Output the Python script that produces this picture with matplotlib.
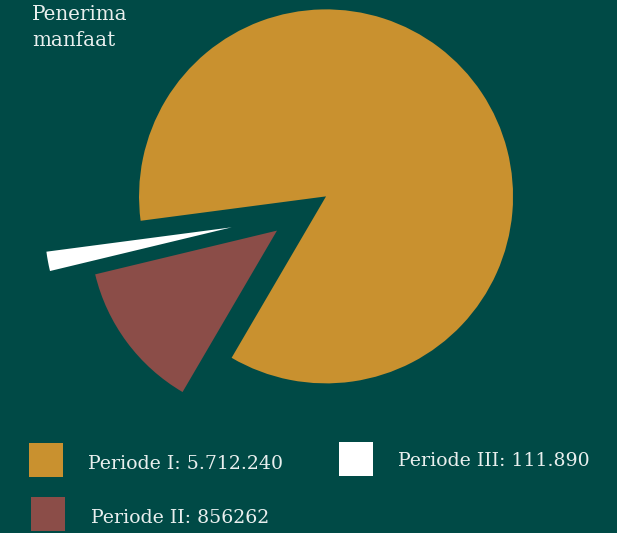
import matplotlib
matplotlib.use("Agg")
import matplotlib.pyplot as plt
from matplotlib.patches import Rectangle

# Data
categories = ["Periode I", "Periode II", "Periode III"]
values = [5712240, 856262, 111890]
labels = ["Periode I: 5.712.240", "Periode II: 856262", "Periode III: 111.890"]
colors = ["#c9912f", "#8b4d48", "#ffffff"]
explode_frac = [0.18, 0.14, 0.36]
title_lines = ["Penerima", "manfaat"]

BG = "#004a46"
TXT = "#e9efee"
W, H = 617, 533
R = 187

fig = plt.figure(figsize=(W / 100, H / 100), dpi=100, facecolor=BG)
ax = fig.add_axes([0, 0, 1, 1])
ax.set_facecolor(BG)

# matplotlib's explode offset is in data units, so scale by radius
ax.pie(values, colors=colors, explode=[e * R for e in explode_frac],
       startangle=187.5, counterclock=False,
       center=(298, H - 215), radius=R, frame=True,
       wedgeprops=dict(linewidth=0))
ax.set_xlim(0, W)
ax.set_ylim(0, H)
ax.set_aspect("equal")
ax.axis("off")

font = "DejaVu Serif"

# title
ax.text(32, H - 20, title_lines[0], family=font, fontsize=14.3, color=TXT, va="baseline", ha="left")
ax.text(32, H - 46, title_lines[1], family=font, fontsize=14.3, color=TXT, va="baseline", ha="left")

# legend (manual)
squares = [(29, 443), (31, 497), (339, 442)]
text_pos = [(88, 469), (91, 523), (398, 466)]
for (sx, sy), (tx, ty), c, lab in zip(squares, text_pos, colors, labels):
    ax.add_patch(Rectangle((sx, H - sy - 34), 34, 34, facecolor=c, edgecolor="none"))
    ax.text(tx, H - ty, lab, family=font, fontsize=13.6, color=TXT, va="baseline", ha="left")

fig.savefig("out.png", dpi=100, facecolor=BG)
